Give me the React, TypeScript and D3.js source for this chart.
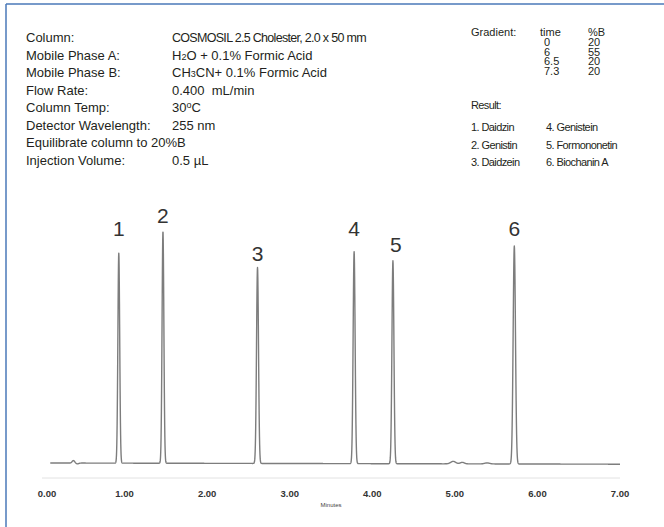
import React from 'react';
import * as d3 from 'd3';

// peaks of the chromatogram (minutes, detector response, peak sigma in minutes)
const peakNames = ['1', '2', '3', '4', '5', '6'];
const peakTimes = [0.93, 1.465, 2.61, 3.78, 4.25, 5.72];
const peakHeights = [210, 232, 196, 212, 203, 218];
const peakSigmas = [0.011, 0.011, 0.012, 0.012, 0.012, 0.014];
const labelHeights = [227, 240, 202, 227, 211, 227];

// small baseline disturbances
const minorTimes = [0.38, 0.43, 4.98, 5.09, 5.39];
const minorHeights = [2.5, -0.8, 2.5, 1.5, 1];
const minorSigmas = [0.015, 0.015, 0.03, 0.025, 0.03];

// baseline drift
const driftTimes = [0.1, 7.0];
const driftLevels = [0, -1.2];

const xTicks = [0, 1, 2, 3, 4, 5, 6, 7];

const conditionLabels = [
  'Column:',
  'Mobile Phase A:',
  'Mobile Phase B:',
  'Flow Rate:',
  'Column Temp:',
  'Detector Wavelength:',
  'Equilibrate column to 20%B',
  'Injection Volume:',
];

const gradientTimes = ['0', '6', '6.5', '7.3'];
const gradientB = ['20', '55', '20', '20'];

const resultsLeft = ['1. Daidzin', '2. Genistin', '3. Daidzein'];
const resultsRight = ['4. Genistein', '5. Formononetin', '6. Biochanin A'];

const W = 664;
const H = 527;
const textColor = '#231f20';
const font = '"Liberation Sans", Arial, sans-serif';

const x = d3.scaleLinear().domain([0, 7]).range([42, 620]);
const y = d3.scaleLinear().domain([0, 250]).range([463, 213]);
const drift = d3.scaleLinear().domain(driftTimes).range(driftLevels);

function signal(t: number): number {
  let v = drift(t);
  peakTimes.forEach((p, i) => {
    const z = (t - p) / peakSigmas[i];
    v += peakHeights[i] * Math.exp(-0.5 * z * z);
  });
  minorTimes.forEach((p, i) => {
    const z = (t - p) / minorSigmas[i];
    v += minorHeights[i] * Math.exp(-0.5 * z * z);
  });
  return v;
}

const samples = d3.range(0.1, 7.0001, 0.002);
const traceLine = d3
  .line<number>()
  .x((t) => x(t))
  .y((t) => y(signal(t)));

const App: React.FC = () => {
  const rowY = (i: number) => 42 + 17.5 * i;
  const vx = 172;
  const gradY = (i: number) => 36 + 9.8 * (i + 1);
  return (
    <svg
      width={W}
      height={H}
      style={{ position: 'absolute', left: 0, top: 0, background: '#fff' }}
      fontFamily={font}
    >
      <rect x={0} y={0} width={W} height={H} fill="#fff" />
      {/* frame */}
      <line x1={6} y1={4} x2={W} y2={4} stroke="#4a78b8" strokeWidth={1.5} />
      <line x1={6} y1={4} x2={6} y2={H} stroke="#4a78b8" strokeWidth={1.5} />

      {/* conditions */}
      <g fontSize={13} fill={textColor}>
        {conditionLabels.map((d, i) => (
          <text key={d} x={26} y={rowY(i)}>
            {d}
          </text>
        ))}
        <text x={vx} y={rowY(0)} letterSpacing={-0.7} fontSize={12.5}>
          COSMOSIL 2.5 Cholester, 2.0 x 50 mm
        </text>
        <text x={vx} y={rowY(1)}>
          H<tspan fontSize={9}>2</tspan>O + 0.1% Formic Acid
        </text>
        <text x={vx} y={rowY(2)}>
          CH<tspan fontSize={9}>3</tspan>CN+ 0.1% Formic Acid
        </text>
        <text x={vx} y={rowY(3)} xmlSpace="preserve">
          0.400  mL/min
        </text>
        <text x={vx} y={rowY(4)}>
          30<tspan fontSize={9} dy={-4}>o</tspan>
          <tspan dy={4}>C</tspan>
        </text>
        <text x={vx} y={rowY(5)}>255 nm</text>
        <text x={vx} y={rowY(7)}>0.5 µL</text>
      </g>

      {/* gradient table */}
      <g fontSize={11} fill={textColor}>
        <text x={471} y={36}>Gradient:</text>
        <text x={540} y={36}>time</text>
        <text x={588} y={36}>%B</text>
        {gradientTimes.map((d, i) => (
          <text key={'t' + i} x={544} y={gradY(i)}>
            {d}
          </text>
        ))}
        {gradientB.map((d, i) => (
          <text key={'b' + i} x={588} y={gradY(i)}>
            {d}
          </text>
        ))}
      </g>

      {/* results */}
      <g fontSize={11} fill={textColor} letterSpacing={-0.6}>
        <text x={471} y={109}>Result:</text>
        {resultsLeft.map((d, i) => (
          <text key={d} x={471} y={131 + 17.5 * i}>
            {d}
          </text>
        ))}
        {resultsRight.map((d, i) => (
          <text key={d} x={546} y={131 + 17.5 * i}>
            {d}
          </text>
        ))}
      </g>

      {/* axis */}
      <line x1={x(0)} x2={x(7)} y1={478} y2={478} stroke="#e2e2e2" strokeWidth={1} />
      <g fontSize={9.5} fontWeight="bold" fill="#333" textAnchor="middle">
        {xTicks.map((t) => (
          <text key={t} x={x(t) + (t === 0 ? 5 : 0)} y={497}>
            {t.toFixed(2)}
          </text>
        ))}
      </g>
      <text x={x(3.5)} y={507} fontSize={6} textAnchor="middle" fill="#444">
        Minutes
      </text>

      {/* trace */}
      <path
        d={traceLine(samples) || ''}
        fill="none"
        stroke="#7d7d7d"
        strokeWidth={1.4}
        strokeLinejoin="round"
      />

      {/* peak labels */}
      <g fontSize={21} fill="#333" textAnchor="middle">
        {peakNames.map((n, i) => (
          <text key={n} x={x(peakTimes[i]) + (n === '5' ? 3 : 0)} y={y(labelHeights[i])}>
            {n}
          </text>
        ))}
      </g>
    </svg>
  );
};

export default App;
